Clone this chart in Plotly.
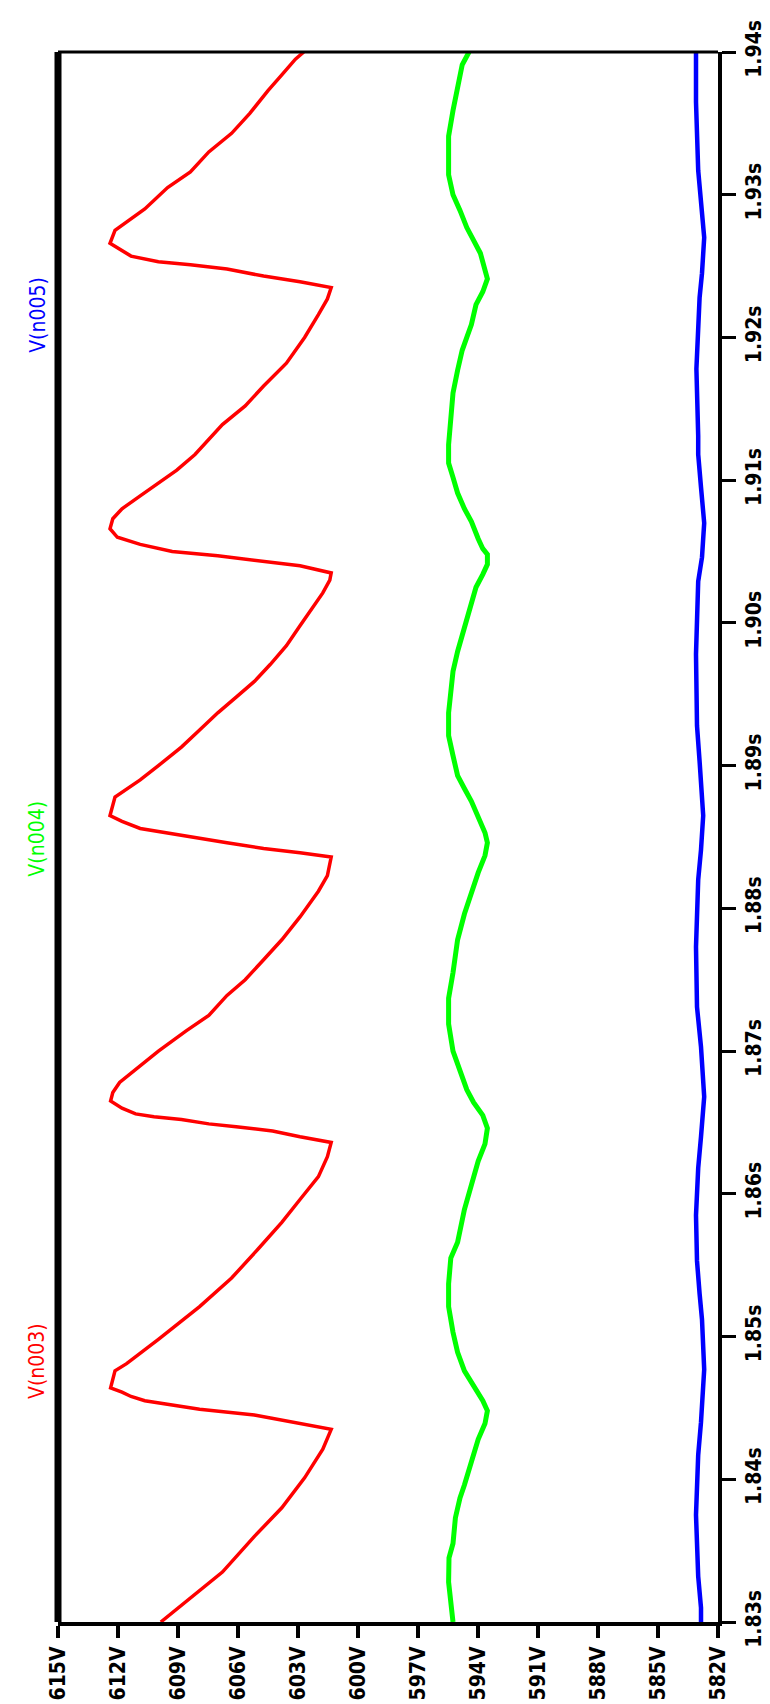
import plotly.graph_objects as go

# ---- data (time in s, voltage in V) ----
red_t = [1.8300, 1.8317, 1.8335, 1.8360, 1.8380, 1.8401, 1.8421, 1.8435,
         1.8439, 1.8445, 1.8449, 1.8455, 1.8458, 1.8461, 1.8464,
         1.8471, 1.8476, 1.8481, 1.8498, 1.8521, 1.8541, 1.8562, 1.8580, 1.8596, 1.8612, 1.8626, 1.8636,
         1.8640, 1.8644, 1.8647, 1.8649, 1.8652, 1.8654, 1.8656, 1.8660, 1.8665,
         1.8671, 1.8678, 1.8687, 1.8700, 1.8714, 1.8725, 1.8739, 1.8750, 1.8764, 1.8778, 1.8794, 1.8812, 1.8823, 1.8836,
         1.8839, 1.8842, 1.8846, 1.8849, 1.8853, 1.8856, 1.8861, 1.8865,
         1.8878, 1.8890, 1.8900, 1.8913, 1.8925, 1.8937, 1.8948, 1.8959, 1.8971, 1.8984, 1.8998, 1.9012, 1.9021, 1.9030, 1.9035,
         1.9040, 1.9043, 1.9047, 1.9050, 1.9055, 1.9060, 1.9066,
         1.9073, 1.9080, 1.9089, 1.9098, 1.9107, 1.9118, 1.9125, 1.9139, 1.9152, 1.9166, 1.9182, 1.9200, 1.9216, 1.9227, 1.9235,
         1.9239, 1.9243, 1.9248, 1.9251, 1.9253, 1.9257, 1.9263, 1.9266,
         1.9275, 1.9281, 1.9290, 1.9305, 1.9316, 1.9330, 1.9343, 1.9357, 1.9373, 1.9384, 1.9395, 1.9400]
red_v = [609.86, 608.38, 606.78, 605.18, 603.81, 602.67, 601.76, 601.34,
         602.90, 605.18, 607.92, 610.66, 611.35, 611.80, 612.37,
         612.26, 612.15, 611.57, 609.98, 607.92, 606.32, 604.95, 603.81, 602.90, 601.98, 601.53, 601.34,
         602.90, 604.27, 606.09, 607.46, 608.83, 610.20, 611.12, 611.80, 612.37,
         612.26, 611.92, 611.12, 609.98, 608.61, 607.46, 606.55, 605.64, 604.72, 603.81, 602.90, 601.98, 601.53, 601.34,
         602.90, 604.72, 606.55, 607.92, 609.52, 610.89, 611.80, 612.40,
         612.15, 610.89, 609.98, 608.83, 607.92, 607.01, 606.09, 605.18, 604.38, 603.58, 602.90, 602.21, 601.76, 601.41, 601.34,
         602.90, 604.72, 607.01, 609.29, 610.89, 612.03, 612.40,
         612.26, 611.80, 610.89, 609.98, 609.06, 608.15, 607.69, 606.78, 605.64, 604.72, 603.58, 602.67, 601.98, 601.53, 601.34,
         602.90, 604.72, 606.55, 608.38, 609.98, 611.35, 612.03, 612.40,
         612.15, 611.57, 610.66, 609.52, 608.38, 607.46, 606.32, 605.41, 604.50, 603.81, 603.13, 602.71]

green_t = [1.8300, 1.8312, 1.8328, 1.8345, 1.8355, 1.8373, 1.8387, 1.8396, 1.8407, 1.8419, 1.8428, 1.8439, 1.8448,
           1.8455, 1.8465, 1.8476, 1.8489, 1.8503, 1.8521, 1.8537, 1.8555, 1.8566, 1.8589, 1.8607, 1.8623, 1.8635, 1.8646,
           1.8655, 1.8664, 1.8673, 1.8687, 1.8700, 1.8719, 1.8737, 1.8755, 1.8778, 1.8796, 1.8812, 1.8825, 1.8837, 1.8846,
           1.8853, 1.8864, 1.8875, 1.8884, 1.8893, 1.8907, 1.8921, 1.8937, 1.8953, 1.8966, 1.8980, 1.8991, 1.9003, 1.9016,
           1.9025, 1.9034, 1.9041, 1.9048, 1.9052, 1.9059, 1.9071, 1.9080, 1.9091, 1.9102, 1.9112, 1.9125, 1.9141, 1.9161,
           1.9177, 1.9191, 1.9200, 1.9209, 1.9223, 1.9232, 1.9241, 1.9248, 1.9259, 1.9268, 1.9277, 1.9289, 1.9300, 1.9314,
           1.9341, 1.9359, 1.9375, 1.9391, 1.9400]
green_v = [595.25, 595.36, 595.47, 595.45, 595.25, 595.13, 594.90, 594.68, 594.45, 594.22, 593.99, 593.65, 593.53,
           593.76, 594.22, 594.68, 595.02, 595.25, 595.47, 595.47, 595.36, 595.02, 594.68, 594.33, 593.99, 593.65, 593.53,
           593.76, 594.22, 594.56, 594.90, 595.25, 595.47, 595.47, 595.25, 595.02, 594.68, 594.33, 593.99, 593.65, 593.53,
           593.65, 593.99, 594.33, 594.68, 595.02, 595.25, 595.47, 595.47, 595.36, 595.25, 595.02, 594.79, 594.56, 594.33,
           594.10, 593.76, 593.53, 593.53, 593.76, 593.99, 594.33, 594.68, 595.02, 595.25, 595.47, 595.47, 595.36, 595.25,
           595.02, 594.79, 594.56, 594.33, 594.10, 593.76, 593.53, 593.65, 593.88, 594.22, 594.56, 594.90, 595.25, 595.47,
           595.47, 595.25, 595.02, 594.79, 594.45]

blue_t = [1.8300, 1.8310, 1.8332, 1.8375, 1.8417, 1.8440, 1.8477, 1.8512, 1.8530, 1.8553, 1.8585, 1.8618, 1.8640,
          1.8668, 1.8703, 1.8731, 1.8773, 1.8820, 1.8841, 1.8865, 1.8903, 1.8928, 1.8978, 1.9029, 1.9046, 1.9070,
          1.9095, 1.9118, 1.9131, 1.9178, 1.9228, 1.9245, 1.9270, 1.9295, 1.9317, 1.9365, 1.9400]
blue_v = [582.85, 582.85, 582.99, 583.10, 582.99, 582.85, 582.69, 582.80, 582.92, 583.05, 583.10, 582.99, 582.85,
          582.69, 582.85, 583.05, 583.10, 582.99, 582.85, 582.74, 582.92, 583.05, 583.10, 582.99, 582.80, 582.69,
          582.85, 582.99, 582.99, 583.08, 582.92, 582.80, 582.69, 582.85, 582.99, 583.10, 583.10]

volt_ticks = [615, 612, 609, 606, 603, 600, 597, 594, 591, 588, 585, 582]
volt_labels = ["615V", "612V", "609V", "606V", "603V", "600V", "597V", "594V", "591V", "588V", "585V", "582V"]
time_ticks = [1.83, 1.84, 1.85, 1.86, 1.87, 1.88, 1.89, 1.90, 1.91, 1.92, 1.93, 1.94]
time_labels = ["1.83s", "1.84s", "1.85s", "1.86s", "1.87s", "1.88s", "1.89s", "1.90s", "1.91s", "1.92s", "1.93s", "1.94s"]

series_names = ["V(n003)", "V(n004)", "V(n005)"]
series_colors = ["#FF0000", "#00FF00", "#0000FF"]
label_times = [1.8483, 1.8849, 1.9216]

FONT = "Liberation Sans Narrow, DejaVu Sans Condensed, Arial Narrow, sans-serif"
TICKFONT = dict(family=FONT, size=21, color="black", weight="bold")

fig = go.Figure()
for t, v, name, col, w in [(red_t, red_v, series_names[0], series_colors[0], 3.5),
                           (green_t, green_v, series_names[1], series_colors[1], 5),
                           (blue_t, blue_v, series_names[2], series_colors[2], 4.5)]:
    fig.add_trace(go.Scatter(x=v, y=t, mode="lines", name=name,
                             line=dict(color=col, width=w), hoverinfo="skip"))

for name, col, lt in zip(series_names, series_colors, label_times):
    fig.add_annotation(x=-0.0315, xref="paper", y=lt, yref="y", text=name, showarrow=False,
                       textangle=-90, xanchor="center", yanchor="middle",
                       font=dict(family=FONT, size=21, color=col))

fig.update_layout(
    width=770, height=1704,
    margin=dict(l=50, r=53, t=32, b=58),
    plot_bgcolor="white", paper_bgcolor="white",
    showlegend=False,
    font=dict(family=FONT, size=21, color="black"),
    xaxis=dict(range=[615, 582], tickvals=volt_ticks, ticktext=volt_labels, tickangle=-90,
               ticks="outside", ticklen=12, tickwidth=4, tickcolor="black",
               showline=True, linewidth=4, linecolor="black", ticklabeloverflow="allow",
               showgrid=False, zeroline=False, tickfont=TICKFONT),
    yaxis=dict(range=[1.83, 1.94], side="right", tickvals=time_ticks, ticktext=time_labels, tickangle=-90,
               ticks="outside", ticklen=14, tickwidth=3, tickcolor="black",
               showline=True, linewidth=4, linecolor="black", ticklabeloverflow="allow",
               showgrid=False, zeroline=False, tickfont=TICKFONT),
    shapes=[
        dict(type="line", xref="paper", yref="paper", x0=0, x1=0, y0=0, y1=1,
             line=dict(color="black", width=7)),
        dict(type="line", xref="paper", yref="paper", x0=0, x1=1, y0=1, y1=1,
             line=dict(color="black", width=3)),
    ],
)

fig.write_html("out.html")
